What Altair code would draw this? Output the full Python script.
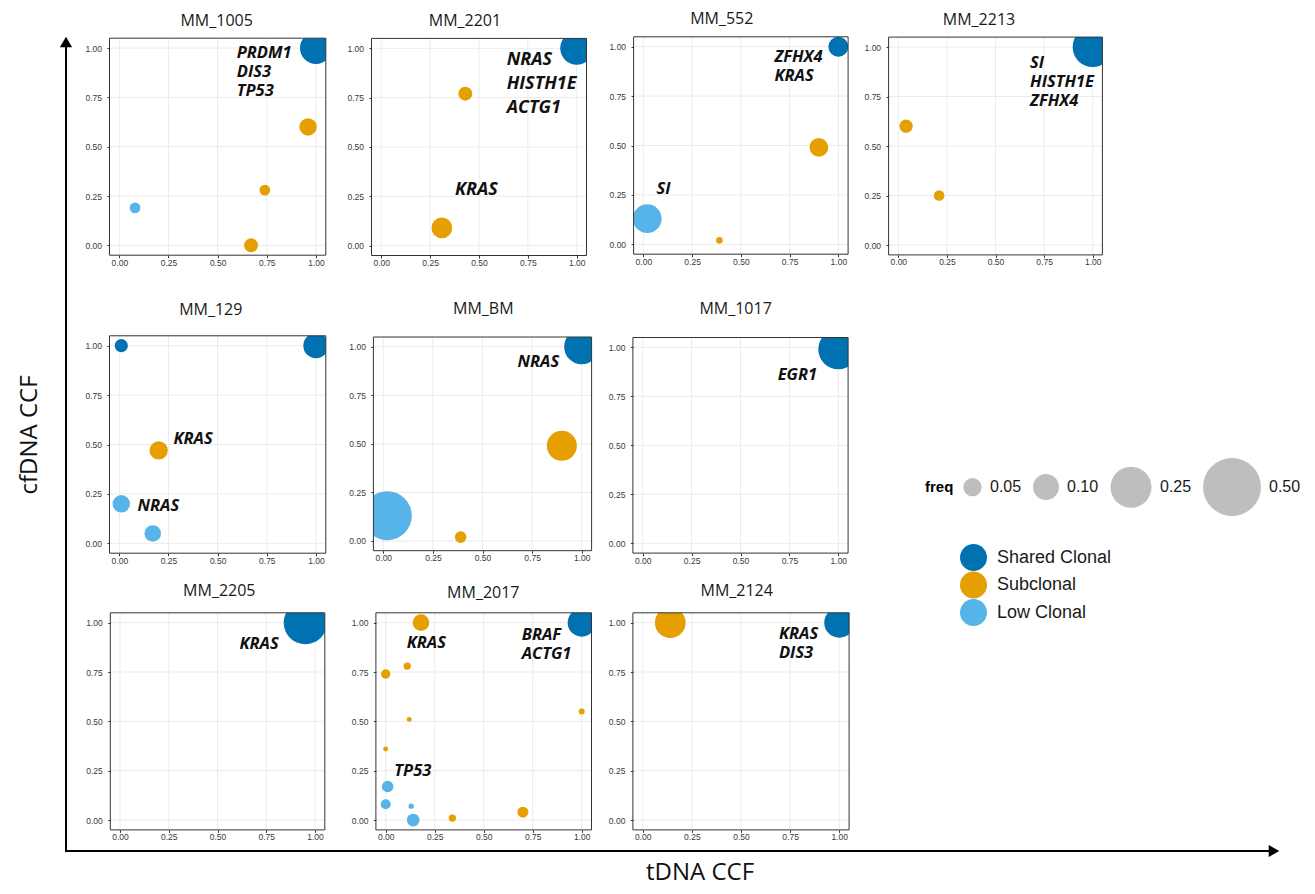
import altair as alt
import pandas as pd

# ---------------- data ----------------
GROUPS = ["Shared Clonal", "Subclonal", "Low Clonal"]
COLORS = ["#0072B2", "#E69F00", "#56B4E9"]
SC, SU, LC = GROUPS

SAMPLES = ["MM_1005", "MM_2201", "MM_552", "MM_2213", "MM_129",
           "MM_BM", "MM_1017", "MM_2205", "MM_2017", "MM_2124"]

point_sample = (["MM_1005"] * 5 + ["MM_2201"] * 3 + ["MM_552"] * 4 + ["MM_2213"] * 3
                + ["MM_129"] * 5 + ["MM_BM"] * 4 + ["MM_1017"] + ["MM_2205"]
                + ["MM_2017"] * 13 + ["MM_2124"] * 2)
point_tdna = ([1.00, 0.96, 0.74, 0.67, 0.08]
              + [1.00, 0.43, 0.31]
              + [1.00, 0.90, 0.02, 0.39]
              + [1.00, 0.04, 0.21]
              + [0.01, 1.00, 0.20, 0.01, 0.17]
              + [1.00, 0.90, 0.02, 0.39]
              + [1.00]
              + [0.95]
              + [1.00, 0.18, 0.11, 0.00, 0.12, 0.00, 1.00, 0.01, 0.00, 0.13, 0.14, 0.34, 0.70]
              + [0.14, 1.00])
point_cfdna = ([1.00, 0.60, 0.28, 0.00, 0.19]
               + [1.00, 0.77, 0.09]
               + [1.00, 0.49, 0.13, 0.02]
               + [1.00, 0.60, 0.25]
               + [1.00, 1.00, 0.47, 0.20, 0.05]
               + [1.00, 0.49, 0.13, 0.02]
               + [0.99]
               + [1.00]
               + [1.00, 1.00, 0.78, 0.74, 0.51, 0.36, 0.55, 0.17, 0.08, 0.07, 0.00, 0.01, 0.04]
               + [1.00, 1.00])
point_freq = ([0.152, 0.045, 0.017, 0.029, 0.017]
              + [0.162, 0.029, 0.064]
              + [0.059, 0.052, 0.122, 0.0066]
              + [0.238, 0.026, 0.017]
              + [0.026, 0.095, 0.050, 0.045, 0.041]
              + [0.183, 0.134, 0.357, 0.020]
              + [0.238]
              + [0.277]
              + [0.117, 0.041, 0.008, 0.013, 0.0037, 0.0037, 0.0054, 0.020, 0.015, 0.0042, 0.024, 0.008, 0.018]
              + [0.140, 0.134])
point_class = ([SC, SU, SU, SU, LC]
               + [SC, SU, SU]
               + [SC, SU, LC, SU]
               + [SC, SU, SU]
               + [SC, SC, SU, LC, LC]
               + [SC, SU, LC, SU]
               + [SC]
               + [SC]
               + [SC, SU, SU, SU, SU, SU, SU, LC, LC, LC, LC, SU, SU]
               + [SU, SC])

label_sample = ["MM_1005", "MM_2201", "MM_2201", "MM_552", "MM_552", "MM_2213",
                "MM_129", "MM_129", "MM_BM", "MM_1017", "MM_2205",
                "MM_2017", "MM_2017", "MM_2017", "MM_2124"]
label_text = ["PRDM1\nDIS3\nTP53", "NRAS\nHISTH1E\nACTG1", "KRAS", "ZFHX4\nKRAS", "SI",
              "SI\nHISTH1E\nZFHX4", "KRAS", "NRAS", "NRAS", "EGR1", "KRAS",
              "KRAS", "BRAF\nACTG1", "TP53", "KRAS\nDIS3"]
label_tdna = [0.597, 0.642, 0.377, 0.672, 0.068, 0.678, 0.275, 0.093, 0.677, 0.690,
              0.612, 0.107, 0.694, 0.044, 0.693]
label_cfdna = [0.983, 0.949, 0.290, 0.958, 0.292, 0.929, 0.536, 0.200, 0.931, 0.867,
               0.904, 0.907, 0.949, 0.257, 0.954]

TICKS = [0.0, 0.25, 0.5, 0.75, 1.0]
FREQ_LEGEND = [0.05, 0.10, 0.25, 0.50]

# ---------------- layout (page pixels) ----------------
W, H = 1299, 878
M0 = 8
# left, right, top, bottom of each plot panel
BOX = {
    "MM_1005": (109.5, 325.8, 38.2, 255.2),
    "MM_2201": (371.5, 586.5, 38.4, 255.5),
    "MM_552": (633.6, 848.1, 36.8, 254.2),
    "MM_2213": (888.6, 1102.4, 37.1, 254.9),
    "MM_129": (109.5, 325.8, 335.8, 553.2),
    "MM_BM": (373.4, 591.6, 337.0, 550.7),
    "MM_1017": (632.9, 848.1, 337.5, 553.1),
    "MM_2205": (110.3, 324.8, 612.8, 829.9),
    "MM_2017": (375.9, 591.5, 612.8, 829.9),
    "MM_2124": (632.9, 849.1, 612.8, 829.9),
}
TITLE_X = {"MM_1005": 0.495, "MM_2201": 0.428, "MM_552": 0.402, "MM_2213": 0.415,
           "MM_129": 0.465, "MM_BM": 0.504, "MM_1017": 0.475, "MM_2205": 0.509,
           "MM_2017": 0.498, "MM_2124": 0.478}
TITLE_DY = {"MM_1005": 17.3, "MM_2201": 17.7, "MM_552": 17.5, "MM_2213": 17.0,
            "MM_129": 25.8, "MM_BM": 27.7, "MM_1017": 28.2, "MM_2205": 22.1,
            "MM_2017": 20.1, "MM_2124": 22.1}
LABEL_FONT = {"MM_2201": (18, 24)}
LO, HI, MASK = -0.05, 1.05, 0.15

pts_all = pd.DataFrame(dict(sample=point_sample, tdna=point_tdna, cfdna=point_cfdna,
                            freq=point_freq, cls=point_class))
labs_all = pd.DataFrame(dict(sample=label_sample, text=label_text,
                             tdna=label_tdna, cfdna=label_cfdna))

color_enc = alt.Color(
    "cls:N",
    scale=alt.Scale(domain=GROUPS, range=COLORS),
    legend=alt.Legend(orient="none", legendX=952, legendY=536, title=None,
                      symbolType="circle", symbolSize=729, symbolStrokeWidth=0,
                      symbolOpacity=1, labelFontSize=18, labelFont="Liberation Sans",
                      labelColor="#1a1a1a", labelOffset=10, rowPadding=0.5),
)
size_enc = alt.Size(
    "freq:Q",
    scale=alt.Scale(domain=[0, 0.5], range=[0, 3364], zero=True),
    legend=alt.Legend(orient="none", legendX=917, legendY=450, direction="horizontal",
                      title="freq", titleOrient="left", titleFontSize=15,
                      titleFontWeight="bold", titleFont="Liberation Sans",
                      titleColor="#000000", titlePadding=9, titleBaseline="middle",
                      labelFontSize=16, labelFont="Liberation Sans", labelColor="#1a1a1a",
                      values=FREQ_LEGEND, format=".2f", symbolType="circle",
                      symbolFillColor="#bebebe", symbolStrokeColor="#bebebe",
                      symbolStrokeWidth=0, symbolOpacity=1, labelOffset=8,
                      columnPadding=11),
)


def panel(name):
    L, R, T, B = BOX[name]
    xs = alt.Scale(domain=[LO, HI], range=[L - M0, R - M0], nice=False, zero=False)
    ys = alt.Scale(domain=[LO, HI], range=[B - M0, T - M0], nice=False, zero=False)
    common = dict(values=TICKS, format=".2f", grid=False, domain=False, title=None,
                  tickSize=2.5, tickColor="#333333", tickWidth=1,
                  labelFontSize=8.5, labelFont="Liberation Sans", labelColor="#3a3a3a",
                  labelFlush=False, labelOverlap=False, zindex=1)
    xa = alt.Axis(orient="bottom", offset=(B - M0) - H, labelPadding=0.5, **common)
    ya = alt.Axis(orient="left", offset=-(L - M0), labelPadding=5.5, **common)

    def X(f):
        return alt.X(f, type="quantitative", scale=xs, axis=xa)

    def Y(f):
        return alt.Y(f, type="quantitative", scale=ys, axis=ya)

    grid_df = pd.DataFrame({"v": TICKS, "lo": LO, "hi": HI})
    vgrid = alt.Chart(grid_df).mark_rule(color="#ebebeb", strokeWidth=1).encode(
        x=X("v"), y=Y("lo"), y2="hi")
    hgrid = alt.Chart(grid_df).mark_rule(color="#ebebeb", strokeWidth=1).encode(
        y=Y("v"), x=X("lo"), x2="hi")

    pts = alt.Chart(pts_all[pts_all["sample"] == name]).mark_circle(
        opacity=1, strokeWidth=0).encode(
        x=X("tdna"), y=Y("cfdna"), color=color_enc, size=size_enc)

    mask_df = pd.DataFrame({
        "x0": [LO - MASK, HI, LO - MASK, LO - MASK],
        "x1": [HI + MASK, HI + MASK, LO, HI + MASK],
        "y0": [HI, LO - MASK, LO - MASK, LO - MASK],
        "y1": [HI + MASK, HI + MASK, HI + MASK, LO],
    })
    masks = alt.Chart(mask_df).mark_rect(fill="white", strokeWidth=0).encode(
        x=X("x0"), x2="x1", y=Y("y0"), y2="y1")

    frame = alt.Chart(pd.DataFrame({"lo": [LO], "hi": [HI]})).mark_rect(
        fillOpacity=0, stroke="#333333", strokeWidth=1).encode(
        x=X("lo"), x2="hi", y=Y("lo"), y2="hi")

    fs, lh = LABEL_FONT.get(name, (16.5, 19))
    labs = alt.Chart(labs_all[labs_all["sample"] == name]).mark_text(
        font="Open Sans", fontSize=fs, fontWeight="bold", fontStyle="italic",
        align="left", baseline="middle", lineBreak="\n", lineHeight=lh, dy=2,
        color="#111111").encode(x=X("tdna"), y=Y("cfdna"), text="text:N")

    title = alt.Chart(pd.DataFrame({"t": [name], "x": [TITLE_X[name]], "y": [HI]})).mark_text(
        font="Open Sans", fontSize=16, color="#1a1a1a", align="center",
        baseline="middle", dy=-TITLE_DY[name]).encode(x=X("x"), y=Y("y"), text="t:N")

    return alt.layer(vgrid, hgrid, pts, masks, frame, labs, title)


panels = [panel(s) for s in SAMPLES]

# decorative outer arrows and axis captions
one = pd.DataFrame({"a": [0]})
v_line = alt.Chart(one).mark_rule(color="black", strokeWidth=2).encode(
    x=alt.value(58), y=alt.value(843), y2=alt.value(38))
h_line = alt.Chart(one).mark_rule(color="black", strokeWidth=2).encode(
    x=alt.value(57), x2=alt.value(1262), y=alt.value(843))
v_head = alt.Chart(one).mark_point(
    shape="triangle-up", filled=True, color="black", opacity=1, size=150).encode(
    x=alt.value(58), y=alt.value(34))
h_head = alt.Chart(one).mark_point(
    shape="triangle-right", filled=True, color="black", opacity=1, size=150).encode(
    x=alt.value(1266), y=alt.value(843))
y_cap = alt.Chart(pd.DataFrame({"t": ["cfDNA CCF"]})).mark_text(
    font="Open Sans", fontSize=24, angle=270, color="#111111", align="center",
    baseline="middle").encode(x=alt.value(22), y=alt.value(427), text="t:N")
x_cap = alt.Chart(pd.DataFrame({"t": ["tDNA CCF"]})).mark_text(
    font="Open Sans", fontSize=24, color="#111111", align="center",
    baseline="middle").encode(x=alt.value(692), y=alt.value(865), text="t:N")

chart = alt.layer(*panels, v_line, h_line, v_head, h_head, y_cap, x_cap).resolve_scale(
    x="independent", y="independent", color="shared", size="shared"
).properties(
    width=W, height=H, autosize=alt.AutoSizeParams(type="none"), padding=0,
    background="white"
).configure_view(strokeWidth=0, strokeOpacity=0)

chart.save("out.html", embed_options={"renderer": "svg", "actions": False})
